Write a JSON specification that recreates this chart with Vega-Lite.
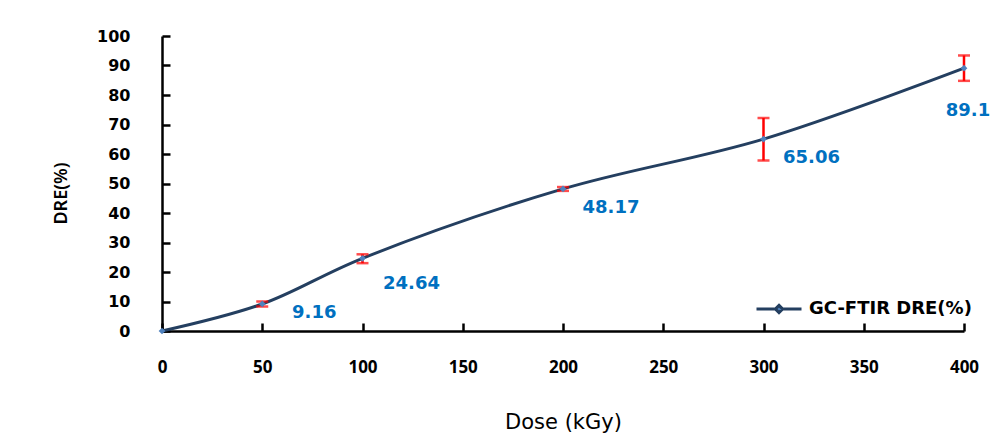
{
  "$schema": "https://vega.github.io/schema/vega-lite/v6.json",
  "width": 802,
  "height": 295,
  "autosize": "none",
  "padding": {"left": 162, "top": 36, "right": 31, "bottom": 108},
  "background": "white",
  "config": {"view": {"stroke": null}},
  "data": {
    "values": [
      {"dose": 0, "dre": 0, "lo": 0, "hi": 0, "series": "GC-FTIR DRE(%)"},
      {"dose": 50, "dre": 9.16, "lo": 8.3, "hi": 10.0, "series": "GC-FTIR DRE(%)"},
      {"dose": 100, "dre": 24.64, "lo": 23.0, "hi": 26.0, "series": "GC-FTIR DRE(%)"},
      {"dose": 200, "dre": 48.17, "lo": 47.5, "hi": 48.8, "series": "GC-FTIR DRE(%)"},
      {"dose": 300, "dre": 65.06, "lo": 57.8, "hi": 72.2, "series": "GC-FTIR DRE(%)"},
      {"dose": 400, "dre": 89.1, "lo": 84.8, "hi": 93.4, "series": "GC-FTIR DRE(%)"}
    ]
  },
  "encoding": {
    "x": {
      "field": "dose", "type": "quantitative",
      "scale": {"domain": [0, 400], "nice": false, "zero": true},
      "axis": {
        "title": "Dose (kGy)", "values": [0, 50, 100, 150, 200, 250, 300, 350, 400],
        "grid": false, "domainColor": "black", "domainWidth": 2.5,
        "tickColor": "black", "tickWidth": 2.5, "tickSize": -8,
        "labelFlush": false, "labelOverlap": false,
        "labelPadding": 36, "labelFont": "Open Sans", "labelFontWeight": "bold",
        "labelFontSize": 17, "labelColor": "black",
        "titleFont": "DejaVu Sans", "titleFontWeight": "normal", "titleFontSize": 21,
        "titleColor": "black", "titlePadding": 36
      }
    },
    "y": {
      "field": "dre", "type": "quantitative",
      "scale": {"domain": [0, 100], "nice": false},
      "axis": {
        "title": "DRE(%)", "values": [0, 10, 20, 30, 40, 50, 60, 70, 80, 90, 100],
        "grid": false, "domainColor": "black", "domainWidth": 2.5,
        "tickColor": "black", "tickWidth": 2.5, "tickSize": -8,
        "labelFlush": false, "labelOverlap": false,
        "labelPadding": 40, "labelFont": "DejaVu Sans", "labelFontWeight": "bold",
        "labelFontSize": 16, "labelColor": "black",
        "titleFont": "Noto Sans", "titleFontWeight": 600, "titleFontSize": 18,
        "titleColor": "black", "titlePadding": 26, "titleY": 157
      }
    }
  },
  "layer": [
    {
      "mark": {"type": "line", "interpolate": "catmull-rom", "strokeWidth": 3, "color": "#243F60"},
      "encoding": {
        "color": {
          "field": "series", "type": "nominal",
          "scale": {"range": ["#243F60"]},
          "legend": {
            "title": null, "orient": "none", "legendX": 593, "legendY": 249,
            "symbolType": "M-1,0H-0.18M0.18,0H1M0,-0.16L0.16,0L0,0.16L-0.16,0Z",
            "symbolSize": 2025, "symbolStrokeWidth": 3,
            "symbolFillColor": "#4F81BD", "symbolStrokeColor": "#243F60",
            "labelFont": "DejaVu Sans", "labelFontWeight": "bold", "labelFontSize": 18,
            "labelColor": "black", "labelOffset": 6, "labelLimit": 400
          }
        }
      }
    },
    {
      "mark": {"type": "errorbar", "ticks": {"size": 12, "thickness": 2.5, "color": "#FF0000"}, "rule": {"strokeWidth": 2.5, "color": "#FF0000"}},
      "transform": [{"filter": "datum.dose > 0"}],
      "encoding": {
        "y": {"field": "lo", "type": "quantitative"},
        "y2": {"field": "hi"}
      }
    },
    {
      "mark": {"type": "point", "shape": "diamond", "filled": true, "size": 45, "color": "#4F81BD", "opacity": 1}
    },
    {
      "transform": [{"filter": "datum.dose == 50"}],
      "mark": {"type": "text", "dx": 52, "dy": 9, "font": "DejaVu Sans", "fontWeight": "bold", "fontSize": 18, "color": "#0070C0"},
      "encoding": {"text": {"field": "dre", "type": "nominal"}}
    },
    {
      "transform": [{"filter": "datum.dose == 100"}],
      "mark": {"type": "text", "dx": 49, "dy": 26, "font": "DejaVu Sans", "fontWeight": "bold", "fontSize": 18, "color": "#0070C0"},
      "encoding": {"text": {"field": "dre", "type": "nominal"}}
    },
    {
      "transform": [{"filter": "datum.dose == 200 || datum.dose == 300"}],
      "mark": {"type": "text", "dx": 48, "dy": 19, "font": "DejaVu Sans", "fontWeight": "bold", "fontSize": 18, "color": "#0070C0"},
      "encoding": {"text": {"field": "dre", "type": "nominal"}}
    },
    {
      "transform": [{"filter": "datum.dose == 400"}],
      "mark": {"type": "text", "dx": 4, "dy": 43, "font": "DejaVu Sans", "fontWeight": "bold", "fontSize": 18, "color": "#0070C0"},
      "encoding": {"text": {"field": "dre", "type": "nominal"}}
    }
  ]
}
